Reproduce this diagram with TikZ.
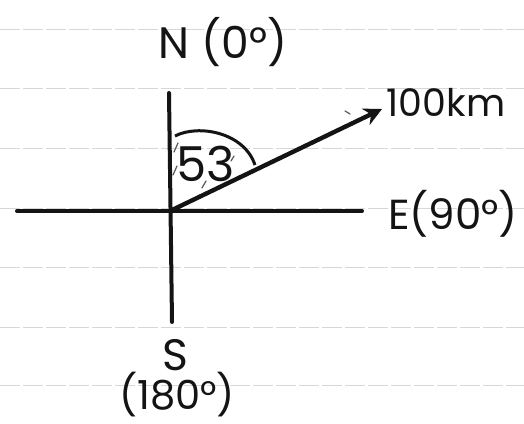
\documentclass[tikz,border=0pt]{standalone}
\usepackage{fontspec}
\setmainfont{Poppins}
\usetikzlibrary{arrows.meta,positioning}
\definecolor{pencil}{RGB}{20,20,20}
\definecolor{ruled}{RGB}{215,215,215}

\begin{document}
\begin{tikzpicture}[
  x=0.5pt,y=-0.5pt,
  axis/.style={line width=2pt,draw=pencil,line cap=round},
  bearing/.style={-{Stealth[length=9pt,width=9pt]},line width=2.2pt,draw=pencil},
  anglearc/.style={line width=1.5pt,draw=pencil},
  hatch/.style={line width=0.6pt,draw=pencil!70,line cap=round},
  ruleline/.style={line width=0.4pt,draw=ruled,dash pattern=on 10pt off 1.5pt},
  label/.style={inner sep=0pt,text=pencil,font=\fontsize{20}{24}\selectfont}]
  \useasboundingbox[fill=white] (0,0) rectangle (524,423);
  \foreach \y in {29,88,148,208,267,327,385}
    \draw[ruleline] (0,\y) -- (524,\y);
  \coordinate (O) at (170,211);
  \coordinate (top) at (169,93);
  \coordinate (bottom) at (172,322);
  \coordinate (west) at (17,211);
  \coordinate (east) at (362,211);
  \coordinate (tip) at (382,109);
  \node[label,font=\fontsize{22}{26}\selectfont] (north) at (223,42) {N (0°)};
  \node[label,font=\fontsize{21}{25}\selectfont] (eastlbl) at (453,214) {E(90°)};
  \node[label,font=\fontsize{22}{26}\selectfont] (south) at (175,355) {S};
  \node[label] (southdeg) at (177,395) {(180°)};
  \node[label,font=\fontsize{19}{23}\selectfont] (dist) at (446,102) {100km};
  \node[label,font=\fontsize{24}{28}\selectfont] (angle) at (206,164) {53};
  \draw[axis] (top) -- (bottom);
  \draw[axis] (west) -- (east);
  \draw[bearing] (O) -- (tip);
  \draw[anglearc] (175,136) .. controls (198,124) and (244,132) .. (255,165);
  % hatch marks in the angle
  \draw[hatch] (178,143) -- (174,152);
  \draw[hatch] (177,166) -- (173,175);
  \draw[hatch] (206,181) -- (202,188);
  \draw[hatch] (234,156) -- (231,161);
  \draw[hatch] (345,111) -- (350,114);
\end{tikzpicture}
\end{document}
